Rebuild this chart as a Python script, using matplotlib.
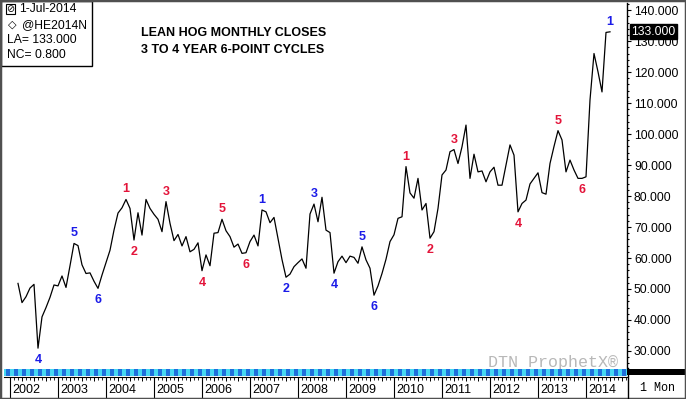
import matplotlib
matplotlib.use('Agg')
import matplotlib.pyplot as plt
from matplotlib.patches import Rectangle
from matplotlib.lines import Line2D

plt.rcParams['font.family'] = ['Liberation Sans', 'DejaVu Sans']

W, H = 686, 399

# monthly closes, months counted from Jan 2002 (first close is Mar 2002)
first_month = 2
closes = [51.8, 45.6, 47.5, 50.3, 51.5, 30.9, 41.0, 44.0, 47.3, 51.3,
          51.0, 54.2, 50.5, 57.5, 64.7, 64.0, 57.8, 55.0, 55.2, 52.5,
          50.2, 54.5, 58.5, 62.5, 69.0, 74.5, 76.2, 78.9, 76.0, 65.8,
          74.6, 67.4, 78.9, 76.0, 74.1, 72.5, 68.5, 78.2, 71.2, 65.6,
          67.6, 63.9, 66.9, 62.0, 62.8, 64.9, 55.9, 61.0, 57.5, 68.0,
          68.2, 72.5, 68.8, 66.9, 63.5, 64.5, 61.5, 61.7, 65.3, 67.4,
          63.9, 75.5, 74.9, 71.4, 73.1, 66.3, 59.5, 53.8, 54.8, 57.2,
          58.5, 59.7, 56.7, 74.2, 77.4, 71.7, 79.6, 69.0, 68.2, 55.1,
          58.8, 60.6, 58.5, 60.6, 60.2, 58.3, 63.6, 59.4, 56.7, 48.0,
          51.0, 55.0, 59.6, 65.3, 67.5, 72.8, 73.3, 89.5, 81.0, 79.3,
          85.7, 75.5, 77.6, 66.4, 68.5, 76.0, 86.8, 88.4, 94.3, 95.0,
          90.5, 95.9, 102.9, 85.7, 93.5, 87.8, 88.1, 84.6, 87.8, 89.3,
          83.5, 83.5, 90.0, 96.5, 93.2, 74.9, 77.6, 78.7, 83.9, 85.7,
          87.5, 81.1, 80.6, 90.5, 96.0, 101.1, 98.1, 87.8, 91.6, 88.4,
          85.7, 85.7, 86.2, 111.0, 126.0, 120.1, 113.6, 132.8, 133.0]
months = list(range(first_month, first_month + len(closes)))

years = list(range(2002, 2015))

# cycle turning points (month index) and their labels
label_month = [7, 16, 22, 29, 31, 39, 48, 53, 59, 63, 69, 76, 81, 88, 91,
               99, 105, 111, 127, 137, 143, 150]
label_text = ['4', '5', '6', '1', '2', '3', '4', '5', '6', '1', '2', '3',
              '4', '5', '6', '1', '2', '3', '4', '5', '6', '1']
label_color = ['b'] * 3 + ['r'] * 6 + ['b'] * 6 + ['r'] * 6 + ['b']

RED = '#e3143a'
BLUE = '#1b1be8'


def px(x0, y0, x1, y1):
    return [x0 / W, 1 - y1 / H, (x1 - x0) / W, (y1 - y0) / H]


def ftext(x, y, s, **kw):
    fig.text(x / W, 1 - y / H, s, va='center', **kw)


fig = plt.figure(figsize=(W / 100, H / 100), dpi=100, facecolor='white')

# main price panel
ax = fig.add_axes(px(4, 3, 627, 368))
ax.plot(months, closes, color='black', lw=0.9)
ax.set_xlim(-1.5, 154.25)
ax.set_ylim(24.5, 142.3)
for s in ['top', 'left', 'bottom']:
    ax.spines[s].set_visible(False)
ax.spines['right'].set_linewidth(1.0)
ax.set_xticks([])
ax.yaxis.tick_right()
ax.set_yticks(range(30, 141, 10))
ax.set_yticks(range(26, 143, 2), minor=True)
ax.set_yticklabels(['%.3f' % v for v in range(30, 141, 10)])
ax.tick_params(axis='y', which='major', length=3, width=0.8, pad=2, labelsize=8.7)
ax.tick_params(axis='y', which='minor', length=1.6, width=0.8)

for m, t, c in zip(label_month, label_text, label_color):
    v = closes[m - first_month]
    dy = 10 if t in '135' else -12
    ax.annotate(t, xy=(m, v), xytext=(0, dy), textcoords='offset pixels',
                ha='center', va='center', fontsize=9, fontweight='bold',
                color=RED if c == 'r' else BLUE, annotation_clip=False)

ax.annotate('%.3f' % closes[-1], xy=(1, closes[-1]), xycoords=('axes fraction', 'data'),
            xytext=(4, 0), textcoords='offset pixels', ha='left', va='center',
            color='white', fontsize=8.7, zorder=10, annotation_clip=False,
            bbox=dict(boxstyle='square,pad=0.12', fc='black', ec='black'))

ax.text(614 / 623, 5 / 365, 'DTN ProphetX\u00ae', transform=ax.transAxes,
        ha='right', va='center', color='#b8b8b8', fontsize=12, family='Liberation Mono')

# striped band under the chart
bar = fig.add_axes(px(4, 369, 627, 376))
bar.set_xlim(-1.5, 154.25)
bar.set_ylim(0, 1)
bar.axis('off')
bar.add_patch(Rectangle((-1.5, 0), 160, 1, color='#45d8f2', lw=0))
for k in range(-1, 155, 2):
    bar.add_patch(Rectangle((k, 0), 1, 1, color='#1f6fdc', lw=0))

# date strip
strip = fig.add_axes(px(4, 377, 627, 398))
strip.set_xlim(-1.5, 154.25)
strip.set_ylim(0, 1)
for s in ['left', 'right', 'bottom']:
    strip.spines[s].set_visible(False)
strip.spines['top'].set_linewidth(0.8)
strip.set_yticks([])
strip.xaxis.tick_top()
strip.set_xticks(range(0, 155, 3))
strip.set_xticks(range(0, 155, 1), minor=True)
strip.tick_params(axis='x', which='major', direction='in', length=3, width=0.7, labeltop=False)
strip.tick_params(axis='x', which='minor', direction='in', length=2, width=0.6)
for i, yr in enumerate(years):
    k = 12 * i
    strip.axvline(k, color='black', lw=0.8)
    strip.text(k + 0.5, 0.4, str(yr), ha='left', va='center', fontsize=9)

# right side furniture
fig.add_artist(Rectangle((627 / W, 1 - 375 / H), 59 / W, 6 / H, color='black', lw=0))
fig.add_artist(Line2D([628 / W, 628 / W], [0, 1 - 368 / H], color='black', lw=1))
ftext(657, 388, '1 Mon', ha='center', fontsize=8.5, family='Liberation Mono')

# info box
fig.add_artist(Rectangle((1 / W, 1 - 66 / H), 91 / W, 65 / H, fc='white', ec='black', lw=1))
ftext(6, 9, '\u2298', fontsize=7, family='DejaVu Sans',
      bbox=dict(boxstyle='square,pad=0.05', fc='white', ec='black', lw=0.8))
ftext(19, 9, '1-Jul-2014', fontsize=8.7)
ftext(8, 25, '\u25c7', fontsize=8, fontweight='bold', family='DejaVu Sans')
ftext(22, 25, '@HE2014N', fontsize=8.7)
ftext(7, 40, 'LA= 133.000', fontsize=8.7)
ftext(7, 55, 'NC= 0.800', fontsize=8.7)

# title
ftext(141, 33, 'LEAN HOG MONTHLY CLOSES', fontsize=9, fontweight='bold')
ftext(141, 50, '3 TO 4 YEAR 6-POINT CYCLES', fontsize=9, fontweight='bold')

# outer frame
fig.add_artist(Rectangle((0, 0), 1, 1, fill=False, ec='#505050', lw=2.5,
                         transform=fig.transFigure))

fig.savefig('out.png', dpi=100, facecolor='white')
